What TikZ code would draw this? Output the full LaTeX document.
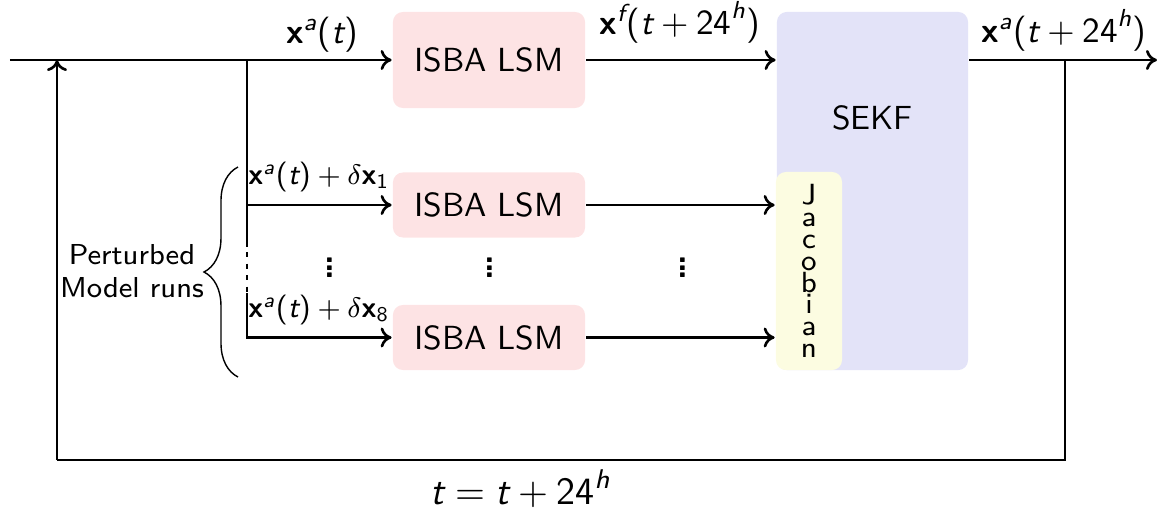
\documentclass[tikz,border=0pt]{standalone}
\usepackage{amsmath}
\usetikzlibrary{decorations.pathreplacing,arrows.meta}
\definecolor{isbafill}{HTML}{FDE3E4}
\definecolor{sekffill}{HTML}{E3E3F8}
\definecolor{jacfill}{HTML}{FCFCE1}
\newcommand{\bx}{\textbf{x}}
\newcommand{\ti}{\textit{t}}
\newcommand{\lp}{\text{(}}
\newcommand{\rp}{\text{)}}
\newcommand{\myvdots}{\vbox{\baselineskip=2.1pt\lineskiplimit=-100pt\lineskip=0pt\hbox{.}\hbox{.}\hbox{.}}}
\begin{document}
\begin{tikzpicture}[x=0.01cm,y=-0.01cm,font=\sffamily,
  line width=0.75pt,
  isba/.style={fill=isbafill,rounded corners=0.1cm,minimum width=1.92cm,inner sep=0pt,font=\sffamily\fontsize{9.5}{11}\selectfont},
  lbl/.style={font=\sffamily\fontsize{10}{12}\selectfont,inner sep=0pt,anchor=base},
  slbl/.style={font=\sffamily\fontsize{8.5}{10}\selectfont,inner sep=0pt,anchor=base},
  dts/.style={font=\sffamily\bfseries\fontsize{10}{12}\selectfont,inner sep=0pt},
  arr/.style={-{To[length=1.1mm,width=2mm]}},
  ]
\useasboundingbox (0,0) rectangle (1159,511);
% boxes
\node[isba,minimum height=0.96cm] (m0) at (489,60) {ISBA LSM};
\node[isba,minimum height=0.65cm] (m1) at (489,205) {ISBA LSM};
\node[isba,minimum height=0.65cm] (m8) at (489,337.5) {ISBA LSM};
\node[fill=sekffill,rounded corners=0.1cm,minimum width=1.91cm,minimum height=3.58cm,inner sep=0pt] (sekf) at (872.5,191) {};
\node[font=\sffamily\fontsize{9.5}{11}\selectfont] (sekft) at (872.5,118) {SEKF};
\node[fill=jacfill,rounded corners=0.1cm,minimum width=0.66cm,minimum height=1.98cm,inner sep=0pt] (jac) at (809,271) {};
\node[align=center,font=\sffamily\fontsize{8.3}{6.2}\selectfont,inner sep=0pt] (jact) at (809,271) {J\\a\\c\\o\\b\\i\\a\\n};
% coordinates
\coordinate (start) at (10,60);
\coordinate (fb) at (57,60);
\coordinate (fbb) at (57,460);
\coordinate (br) at (247,60);
\coordinate (brs) at (247,247);
\coordinate (brd) at (247,293);
\coordinate (rt) at (1065,60);
\coordinate (rtb) at (1065,460);
\coordinate (out) at (1157,60);
% connectors
\draw[arr] (start) -- (m0.west);
\draw[arr] (fbb) -- (fb);
\draw (fbb) -- (rtb) -- (rt);
\draw (br) -- (brs);
\draw[dash pattern=on 0.05cm off 0.065cm] (brs) ++(0,5) -- (brd);
\draw[arr] (brd) |- (m8.west);
\draw[arr] (br |- m1.west) -- (m1.west);
\draw[arr] (m0.east) -- (m0.east -| sekf.west);
\draw[arr] (m1.east) -- (m1.east -| jac.west);
\draw[arr] (m8.east) -- (m8.east -| jac.west);
\draw[arr] (sekf.east |- m0.east) -- (out);
% labels
\node[lbl] (l0) at (322,43) {$\bx^{\textit{a}}\lp\ti\rp$};
\node[lbl] (lf) at (680,34) {$\bx^{\textit{f}}\lp\ti+\text{24}^{\textit{h}}\rp$};
\node[lbl] (la) at (1064,42) {$\bx^{\textit{a}}\lp\ti+\text{24}^{\textit{h}}\rp$};
\node[slbl] (l1) at (319,184) {$\bx^{\textit{a}}\lp\ti\rp+\delta\bx_{\text{1}}$};
\node[slbl] (l8) at (319,317) {$\bx^{\textit{a}}\lp\ti\rp+\delta\bx_{\text{8}}$};
\node[dts] (d1) at (330,268) {\myvdots};
\node[dts] (d2) at (490,268) {\myvdots};
\node[dts] (d3) at (683,268) {\myvdots};
\node[font=\sffamily\fontsize{11}{13}\selectfont,inner sep=0pt,anchor=base] (tt) at (521,504) {$\ti=\ti+\text{24}^{\textit{h}}$};
\draw[line width=0.4pt,decorate,decoration={brace,amplitude=0.34cm}] (238,377) -- (238,167);
\node[align=center,font=\sffamily\fontsize{8.2}{9.5}\selectfont,inner sep=0pt] (pm) at (132,271) {Perturbed\\Model runs};
\end{tikzpicture}
\end{document}
